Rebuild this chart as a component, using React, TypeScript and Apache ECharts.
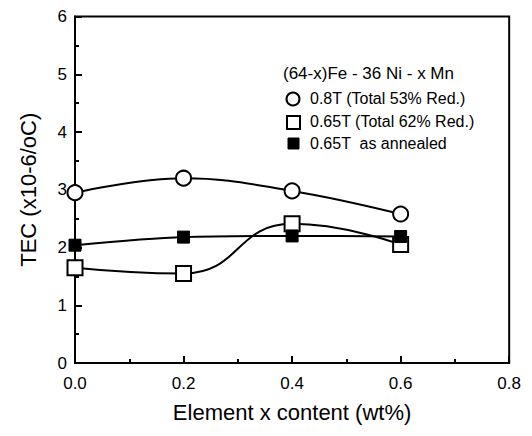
import React, { useEffect, useRef } from "react";
import * as echarts from "echarts";

const xValues = [0, 0.2, 0.4, 0.6];
const circle53 = [2.95, 3.2, 2.98, 2.58];
const square62 = [1.65, 1.55, 2.41, 2.05];
const annealed = [2.04, 2.18, 2.2, 2.19];
const seriesNames = ["0.8T (Total 53% Red.)", "0.65T (Total 62% Red.)", "0.65T  as annealed"];
const legendTitle = "(64-x)Fe - 36 Ni - x Mn";

const FONT = "Liberation Sans, Arial, sans-serif";

export default function App() {
  const ref = useRef<HTMLDivElement>(null);
  useEffect(() => {
    if (!ref.current) return;
    const chart = echarts.init(ref.current, null, { renderer: "svg" });
    const pair = (ys: number[]) => xValues.map((x, i) => [x, ys[i]]);
    chart.setOption({
      animation: false,
      backgroundColor: "#fff",
      grid: { left: 67, right: -4, top: 2, bottom: 52, show: true, borderColor: "#000", borderWidth: 2, backgroundColor: "transparent" },
      xAxis: {
        type: "value", min: 0, max: 0.8, interval: 0.2,
        name: "Element x content (wt%)", nameLocation: "middle", nameGap: 38,
        nameTextStyle: { fontFamily: FONT, fontSize: 22, color: "#000" },
        axisLine: { show: true, lineStyle: { color: "#000", width: 2 } },
        axisTick: { show: true, inside: true, length: 7, lineStyle: { color: "#000", width: 2 } },
        minorTick: { show: true, splitNumber: 2, length: 4, lineStyle: { color: "#000", width: 2 } },
        splitLine: { show: false },
        axisLabel: { fontFamily: FONT, fontSize: 17, color: "#000", margin: 12, formatter: (v: number) => v.toFixed(1) },
      },
      yAxis: {
        type: "value", min: 0, max: 6, interval: 1,
        name: "TEC (x10-6/oC)", nameLocation: "middle", nameGap: 36,
        nameTextStyle: { fontFamily: FONT, fontSize: 22, color: "#000" },
        axisLine: { show: true, lineStyle: { color: "#000", width: 2 } },
        axisTick: { show: true, inside: true, length: 7, lineStyle: { color: "#000", width: 2 } },
        minorTick: { show: true, splitNumber: 2, length: 4, lineStyle: { color: "#000", width: 2 } },
        splitLine: { show: false },
        axisLabel: { fontFamily: FONT, fontSize: 17, color: "#000", margin: 8 },
      },
      series: [
        {
          name: seriesNames[0], type: "line", data: pair(circle53), smooth: 0.4,
          symbol: "circle", symbolSize: 15,
          itemStyle: { color: "#fff", borderColor: "#000", borderWidth: 2 },
          lineStyle: { color: "#000", width: 2 }, z: 3,
        },
        {
          name: seriesNames[1], type: "line", data: pair(square62), smooth: 0.5,
          symbol: "rect", symbolSize: 15,
          itemStyle: { color: "#fff", borderColor: "#000", borderWidth: 2 },
          lineStyle: { color: "#000", width: 2 }, z: 3,
        },
        {
          name: seriesNames[2], type: "line", data: pair(annealed), smooth: 0.3,
          symbol: "rect", symbolSize: 12,
          itemStyle: { color: "#000", borderColor: "#000", borderWidth: 1 },
          lineStyle: { color: "#000", width: 2 }, z: 4,
        },
      ],
      graphic: [
        { type: "text", left: 275, top: 57, style: { text: legendTitle, fontFamily: FONT, fontSize: 17, fill: "#000" } },
        { type: "circle", shape: { cx: 285, cy: 91, r: 6.5 }, style: { fill: "#fff", stroke: "#000", lineWidth: 2 } },
        { type: "text", left: 302, top: 82, style: { text: seriesNames[0], fontFamily: FONT, fontSize: 16, fill: "#000" } },
        { type: "rect", shape: { x: 279, y: 108, width: 13, height: 13 }, style: { fill: "#fff", stroke: "#000", lineWidth: 2 } },
        { type: "text", left: 302, top: 105, style: { text: seriesNames[1], fontFamily: FONT, fontSize: 16, fill: "#000" } },
        { type: "rect", shape: { x: 280, y: 130, width: 11, height: 11 }, style: { fill: "#000", stroke: "#000", lineWidth: 1 } },
        { type: "text", left: 302, top: 127, style: { text: seriesNames[2], fontFamily: FONT, fontSize: 16, fill: "#000" } },
      ],
    });
    return () => chart.dispose();
  }, []);
  return <div ref={ref} style={{ width: 516, height: 420 }} />;
}
